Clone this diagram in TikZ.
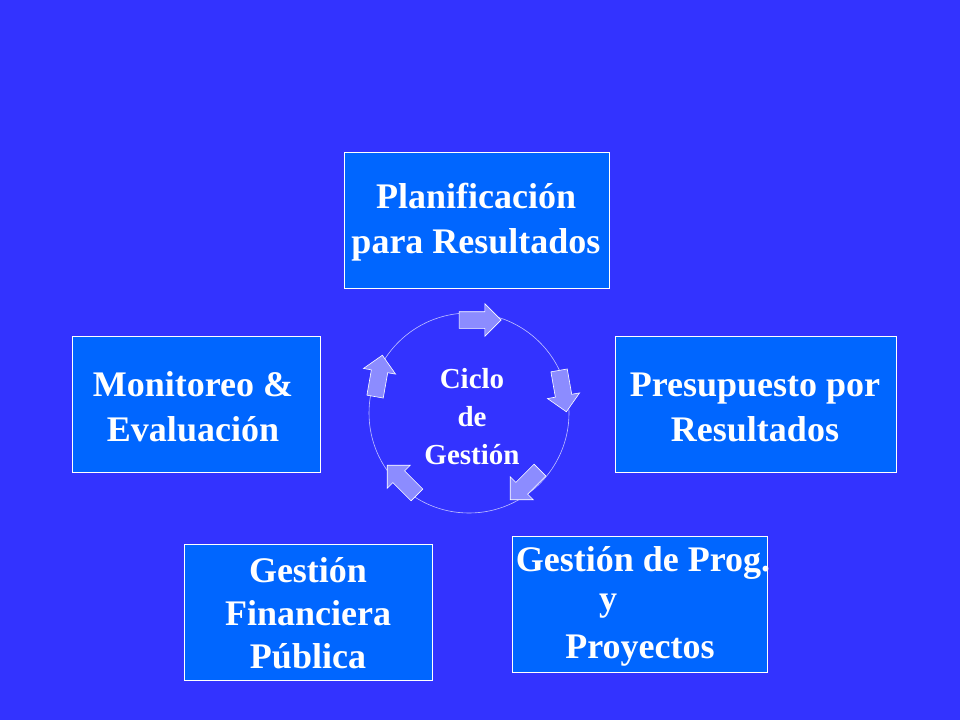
\documentclass[tikz,border=0pt]{standalone}
\usepackage{fontspec}
\setmainfont{Liberation Serif}
\usetikzlibrary{shapes.arrows}
\definecolor{bg}{RGB}{51,51,255}
\definecolor{boxc}{RGB}{0,102,255}
\definecolor{arr}{RGB}{140,140,255}
\begin{document}
\begin{tikzpicture}[x=1pt,y=-1pt,
  box/.style={draw=white,fill=boxc,line width=0.8pt},
  lbl/.style={text=white,font=\fontsize{36}{45}\selectfont\bfseries,align=center,inner sep=0pt},
  cyc/.style={single arrow,draw=white,fill=arr,minimum height=42pt,minimum width=32pt,single arrow head extend=8pt,inner sep=8pt,line width=0.6pt}]
\fill[bg] (0,0) rectangle (960,720);
\draw[box] (344,152) rectangle (609,288) coordinate (b1);
\draw[box] (615,336) rectangle (896,472) coordinate (b2);
\draw[box] (72,336) rectangle (320,472) coordinate (b3);
\draw[box] (184,544) rectangle (432,680) coordinate (b4);
\draw[box] (512,536) rectangle (767,672) coordinate (b5);
\node[lbl] (t1) at (476,222) {Planificación\\para Resultados};
\node[lbl] (t2) at (755,407) {Presupuesto por\\Resultados};
\node[lbl] (t3) at (193,407) {Monitoreo \&\\Evaluación};
\node[lbl,font=\fontsize{36}{43}\selectfont\bfseries] (t4) at (308,613) {Gestión\\Financiera\\Pública};
\node[lbl] (t5a) at (643,563) {Gestión de Prog.};
\node[lbl] (t5b) at (608,606) {y};
\node[lbl] (t5c) at (640,651) {Proyectos};
\draw[white!70!bg,line width=0.6pt] (469,413) circle (100);
\node[text=white,font=\fontsize{29}{38}\selectfont\bfseries,align=center,inner sep=0pt] (c) at (472,417) {Ciclo\\de\\Gestión};
\node[cyc,rotate=0] (a1) at (476,320) {};
\node[cyc,rotate=-80] (a2) at (562,387) {};
\node[cyc,rotate=-135] (a3) at (528,482) {};
\node[cyc,rotate=135] (a4) at (405,483) {};
\node[cyc,rotate=80] (a5) at (378,380) {};
\end{tikzpicture}
\end{document}
